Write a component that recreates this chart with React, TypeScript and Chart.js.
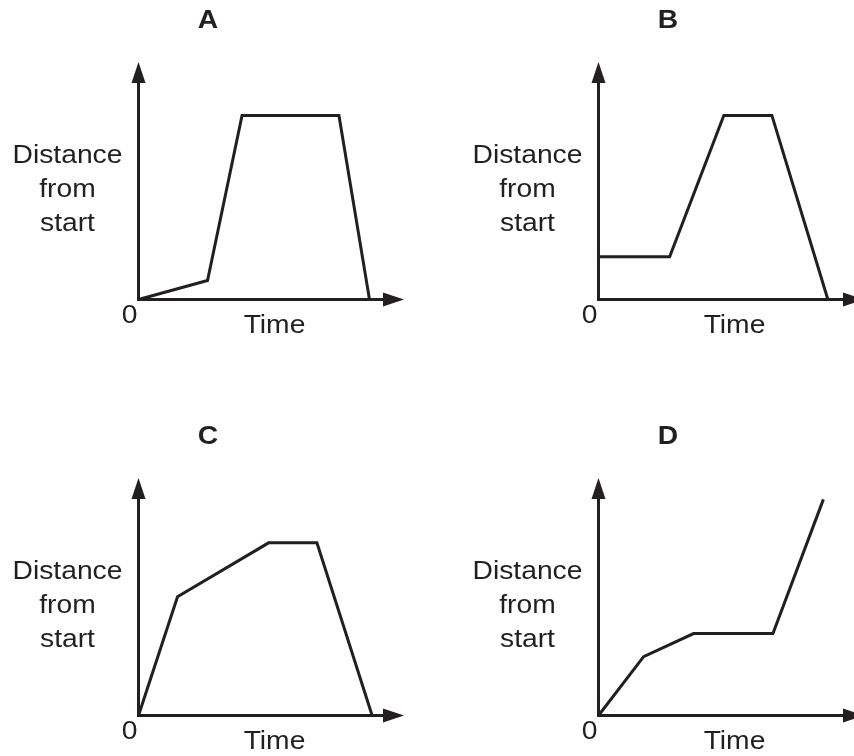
import React, { useEffect, useRef } from 'react';
import { Chart, registerables } from 'chart.js';

Chart.register(...registerables);

// ---- data (time, distance in arbitrary units; axes run 0..10) ----
const panelLetters = ['A', 'B', 'C', 'D'];
const yLabelLines = ['Distance', 'from', 'start'];
const xLabel = 'Time';
const originLabel = '0';

const timeA = [0, 2.6, 3.9, 7.55, 8.7];
const distA = [0, 0.8, 7.75, 7.75, 0];

const timeB = [0, 2.68, 4.72, 6.53, 8.64];
const distB = [1.8, 1.8, 7.75, 7.75, 0];

const timeC = [0, 1.47, 4.9, 6.72, 8.8];
const distC = [0, 5.0, 7.27, 7.27, 0];

const timeD = [0, 1.7, 3.58, 6.57, 8.47];
const distD = [0, 2.48, 3.45, 3.45, 9.1];

const AXIS_MAX = 10;

const series = [
  { time: timeA, dist: distA },
  { time: timeB, dist: distB },
  { time: timeC, dist: distC },
  { time: timeD, dist: distD },
];

// ---- layout / style ----
const INK = '#231f20';
const CANVAS_W = 420;
const CANVAS_H = 360;
const panelOffsets = [
  [0, 0],
  [460, 0],
  [0, 416],
  [460, 416],
];
const FONT = '"Liberation Sans", Arial, Helvetica, sans-serif';
const HSCALE = 1.13;

function drawText(ctx: CanvasRenderingContext2D, text: string, cx: number, baseline: number, font: string) {
  ctx.save();
  ctx.font = font;
  ctx.textAlign = 'center';
  ctx.textBaseline = 'alphabetic';
  ctx.translate(cx, baseline);
  ctx.scale(HSCALE, 1);
  ctx.fillText(text, 0, 0);
  ctx.restore();
}

function makePlugin(letter: string) {
  return {
    id: 'sketchAxes',
    beforeDatasetsDraw(chart: any) {
      const ctx: CanvasRenderingContext2D = chart.ctx;
      const xs = chart.scales.x;
      const ys = chart.scales.y;
      const ox = xs.getPixelForValue(0);
      const oy = ys.getPixelForValue(0);
      const xTip = xs.getPixelForValue(xs.max);
      const yTip = ys.getPixelForValue(ys.max);
      const head = 21;
      const half = 7;
      ctx.save();
      ctx.strokeStyle = INK;
      ctx.fillStyle = INK;
      ctx.lineWidth = 3;
      ctx.lineCap = 'square';
      // axes
      ctx.beginPath();
      ctx.moveTo(ox, oy);
      ctx.lineTo(ox, yTip + head - 2);
      ctx.moveTo(ox, oy);
      ctx.lineTo(xTip - head + 2, oy);
      ctx.stroke();
      // arrowheads
      ctx.beginPath();
      ctx.moveTo(ox, yTip);
      ctx.lineTo(ox - half, yTip + head);
      ctx.lineTo(ox + half, yTip + head);
      ctx.closePath();
      ctx.fill();
      ctx.beginPath();
      ctx.moveTo(xTip, oy);
      ctx.lineTo(xTip - head, oy - half);
      ctx.lineTo(xTip - head, oy + half);
      ctx.closePath();
      ctx.fill();
      // texts
      drawText(ctx, letter, ox + 69.5, yTip - 34, `bold 25px ${FONT}`);
      const offs = [-137, -103, -69];
      yLabelLines.forEach((t, i) => drawText(ctx, t, ox - 71, oy + offs[i], `25px ${FONT}`));
      drawText(ctx, originLabel, ox - 9, oy + 23, `25px ${FONT}`);
      drawText(ctx, xLabel, ox + 136, oy + 33, `25px ${FONT}`);
      ctx.restore();
    },
  };
}

function Panel({ index }: { index: number }) {
  const ref = useRef<HTMLCanvasElement | null>(null);
  useEffect(() => {
    if (!ref.current) return;
    const s = series[index];
    const chart = new Chart(ref.current, {
      type: 'scatter',
      data: {
        datasets: [
          {
            data: s.time.map((t, i) => ({ x: t, y: s.dist[i] })),
            showLine: true,
            borderColor: INK,
            borderWidth: 3,
            borderJoinStyle: 'miter',
            pointRadius: 0,
            pointHoverRadius: 0,
            clip: false,
            tension: 0,
          } as any,
        ],
      },
      options: {
        responsive: false,
        animation: false,
        devicePixelRatio: 1,
        events: [],
        layout: { padding: { left: 138.5, top: 62, right: CANVAS_W - 404, bottom: CANVAS_H - 299.5 } },
        plugins: { legend: { display: false }, tooltip: { enabled: false }, title: { display: false } },
        scales: {
          x: { type: 'linear', min: 0, max: AXIS_MAX, display: false },
          y: { type: 'linear', min: 0, max: AXIS_MAX, display: false },
        },
      },
      plugins: [makePlugin(panelLetters[index])],
    });
    return () => chart.destroy();
  }, [index]);
  const [left, top] = panelOffsets[index];
  return (
    <div style={{ position: 'absolute', left, top, width: CANVAS_W, height: CANVAS_H }}>
      <canvas ref={ref} width={CANVAS_W} height={CANVAS_H} style={{ display: 'block' }} />
    </div>
  );
}

export default function App() {
  return (
    <div
      style={{
        position: 'fixed',
        left: 0,
        top: 0,
        width: 854,
        height: 756,
        overflow: 'hidden',
        background: '#ffffff',
      }}
    >
      {panelLetters.map((_, i) => (
        <Panel key={i} index={i} />
      ))}
    </div>
  );
}
